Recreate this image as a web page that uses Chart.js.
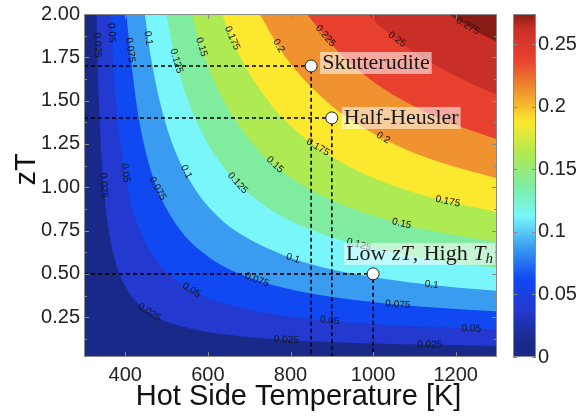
<!DOCTYPE html>
<html>
<head>
<meta charset="utf-8">
<script src="https://cdn.jsdelivr.net/npm/chart.js@4.4.1/dist/chart.umd.min.js"></script>
<style>
  html, body { margin: 0; padding: 0; background: #fff; }
</style>
</head>
<body>
<canvas id="chart" width="579" height="419"></canvas>
<script>
// efficiency levels of the filled contours
const levels = [0.025, 0.05, 0.075, 0.1, 0.125, 0.15, 0.175, 0.2, 0.225, 0.25, 0.275];
// band colours, lowest band first
const bandColors = ['#19298a', '#2339cf', '#1048f2', '#3a9cf0', '#78f6fa', '#80eca0',
                    '#aeea52', '#fce82e', '#ef922f', '#e8412f', '#ca2f27', '#8a1b14'];

// contour lines as [T (K), zT] pairs
const c025 = [[330,2.0],[336,1.5],[348,1.0],[360,0.75],[373,0.6],[386,0.5],[407,0.4],[422,0.35],[444,0.3],[476,0.25],[531,0.2],[586,0.17],[641,0.15],[725,0.13],[785,0.12],[866,0.11],[980,0.1],[1155,0.09],[1300,0.084]];
const c050 = [[364,2.0],[377,1.5],[405,1.0],[436,0.75],[469,0.6],[504,0.5],[530,0.45],[564,0.4],[612,0.35],[686,0.3],[811,0.25],[940,0.22],[1073,0.2],[1300,0.178]];
const c075 = [[402,2.0],[426,1.5],[445,1.25],[476,1.0],[534,0.75],[600,0.6],[633,0.55],[677,0.5],[736,0.45],[820,0.4],[951,0.35],[1047,0.325],[1181,0.3],[1300,0.284]];
const c100 = [[447,2.0],[462,1.75],[483,1.5],[514,1.25],[566,1.0],[616,0.85],[666,0.75],[791,0.6],[859,0.55],[953,0.5],[1090,0.45],[1207,0.42],[1300,0.402]];
const c125 = [[499,2.0],[521,1.75],[552,1.5],[600,1.25],[643,1.1],[681,1.0],[766,0.85],[853,0.75],[991,0.65],[1095,0.6],[1208,0.56],[1300,0.535]];
const c150 = [[560,2.0],[592,1.75],[638,1.5],[709,1.25],[776,1.1],[838,1.0],[924,0.9],[1051,0.8],[1161,0.74],[1300,0.685]];
const c175 = [[634,2.0],[679,1.75],[745,1.5],[781,1.4],[853,1.25],[958,1.1],[1060,1.0],[1158,0.93],[1300,0.856]];
const c200 = [[725,2.0],[788,1.75],[885,1.5],[939,1.4],[1050,1.25],[1155,1.15],[1300,1.052]];
const c225 = [[839,2.0],[929,1.75],[1006,1.6],[1073,1.5],[1158,1.4],[1300,1.277]];
const c250 = [[985,2.0],[1031,1.9],[1118,1.75],[1236,1.6],[1300,1.536]];
const c275 = [[1181,2.0],[1250,1.9],[1300,1.839]];
const contours = [c025, c050, c075, c100, c125, c150, c175, c200, c225, c250, c275];

// inline contour labels: level, T, zT
const labelLevel = [0.025, 0.05, 0.075, 0.1, 0.125, 0.15, 0.175, 0.2, 0.225, 0.25, 0.275,
                    0.025, 0.05, 0.075, 0.1, 0.125, 0.15, 0.175, 0.2, 0.175, 0.15, 0.125,
                    0.1, 0.1, 0.075, 0.075, 0.05, 0.05, 0.05, 0.025, 0.025, 0.025];
const labelT = [331, 358, 406, 452, 525, 585, 658, 767, 883, 1057, 1229,
                346, 395, 476, 540, 670, 762, 866, 1023, 1180, 1069, 967,
                806, 1142, 718, 1060, 561, 895, 1238, 456, 790, 1137];
const labelZT = [1.82, 1.89, 1.79, 1.86, 1.73, 1.81, 1.86, 1.81, 1.87, 1.85, 1.93,
                 1.01, 1.08, 0.99, 1.08, 1.02, 1.13, 1.23, 1.28, 0.91, 0.79, 0.68,
                 0.59, 0.44, 0.46, 0.33, 0.41, 0.23, 0.19, 0.27, 0.12, 0.095];

// marked materials
const sampleT = [850, 900, 1000];
const sampleZT = [1.7, 1.4, 0.5];

// axes
const tMin = 300, tMax = 1300;
const zMin = 0.02, zMax = 2.0;
const xTicks = [400, 600, 800, 1000, 1200];
const yTicks = [0.25, 0.5, 0.75, 1.0, 1.25, 1.5, 1.75, 2.0];
const yMinorTicks = [0.125, 0.375, 0.625, 0.875, 1.125, 1.375, 1.625, 1.875];
const cbMax = 0.274;
const cbTicks = [0, 0.05, 0.1, 0.15, 0.2, 0.25];

const datasets = [];
contours.forEach((pts, i) => {
    datasets.push({
        label: 'eta ' + levels[i],
        data: pts.map(p => ({x: p[0], y: p[1]})),
        fill: 'end',
        backgroundColor: bandColors[i + 1],
        borderColor: 'transparent',
        borderWidth: 0,
        pointRadius: 0,
        cubicInterpolationMode: 'monotone',
        order: 100 - i,
    });
});
sampleT.forEach((t, i) => {
    datasets.push({
        label: 'guide ' + i,
        data: [{x: tMin, y: sampleZT[i]}, {x: t, y: sampleZT[i]}, {x: t, y: zMin}],
        fill: false,
        borderColor: '#000',
        borderWidth: 1.6,
        borderDash: [4, 3],
        pointRadius: 0,
        order: 2,
    });
});
datasets.push({
    label: 'samples',
    data: sampleT.map((t, i) => ({x: t, y: sampleZT[i]})),
    showLine: false,
    pointRadius: 6,
    pointBackgroundColor: '#fff',
    pointBorderColor: '#222',
    pointBorderWidth: 1,
    order: 0,
});

function nearestOnContour(chart, level, t, z) {
    const xs = chart.scales.x, ys = chart.scales.y;
    const pts = contours[levels.indexOf(level)].map(p => [xs.getPixelForValue(p[0]), ys.getPixelForValue(p[1])]);
    const px = xs.getPixelForValue(t), py = ys.getPixelForValue(z);
    let best = null;
    for (let i = 0; i < pts.length - 1; i++) {
        const [x1, y1] = pts[i], [x2, y2] = pts[i + 1];
        const dx = x2 - x1, dy = y2 - y1;
        let u = ((px - x1) * dx + (py - y1) * dy) / (dx * dx + dy * dy);
        u = Math.max(0, Math.min(1, u));
        const qx = x1 + u * dx, qy = y1 + u * dy;
        const d = (qx - px) ** 2 + (qy - py) ** 2;
        if (!best || d < best.d) best = {d, x: qx, y: qy, a: Math.atan2(dy, dx)};
    }
    return best;
}

const contourPlot = {
    id: 'contourPlot',
    beforeDatasetsDraw(chart) {
        const {ctx, chartArea: a} = chart;
        ctx.save();
        ctx.fillStyle = bandColors[0];
        ctx.fillRect(a.left, a.top, a.right - a.left, a.bottom - a.top);
        ctx.restore();
    },
    afterDatasetDraw(chart, args) {
        if (args.index !== levels.length - 1) return;
        // contour labels on top of the filled bands
        const ctx = chart.ctx;
        ctx.save();
        ctx.font = '10px "Liberation Sans", Arial, sans-serif';
        ctx.fillStyle = '#151515';
        ctx.textAlign = 'center';
        ctx.textBaseline = 'middle';
        labelLevel.forEach((lv, i) => {
            const p = nearestOnContour(chart, lv, labelT[i], labelZT[i]);
            ctx.save();
            ctx.translate(p.x, p.y);
            ctx.rotate(p.a);
            ctx.fillText(String(lv), 0, 0);
            ctx.restore();
        });
        ctx.restore();
    },
    afterDatasetsDraw(chart) {
        const {ctx, chartArea: a, scales} = chart;
        const xs = scales.x, ys = scales.y, cb = scales.cb;
        ctx.save();
        // frame and inward ticks
        ctx.strokeStyle = '#8a8a8a';
        ctx.lineWidth = 1;
        ctx.strokeRect(a.left + 0.5, a.top + 0.5, a.right - a.left - 1, a.bottom - a.top - 1);
        ctx.beginPath();
        xTicks.forEach(v => {
            const x = Math.round(xs.getPixelForValue(v)) + 0.5;
            ctx.moveTo(x, a.bottom); ctx.lineTo(x, a.bottom - 5);
            ctx.moveTo(x, a.top); ctx.lineTo(x, a.top + 5);
        });
        yTicks.forEach(v => {
            const y = Math.round(ys.getPixelForValue(v)) + 0.5;
            ctx.moveTo(a.left, y); ctx.lineTo(a.left + 5, y);
            ctx.moveTo(a.right, y); ctx.lineTo(a.right - 5, y);
        });
        yMinorTicks.forEach(v => {
            const y = Math.round(ys.getPixelForValue(v)) + 0.5;
            ctx.moveTo(a.left, y); ctx.lineTo(a.left + 3, y);
            ctx.moveTo(a.right, y); ctx.lineTo(a.right - 3, y);
        });
        ctx.stroke();

        // colour bar
        const cbL = a.right + 16, cbR = a.right + 39;
        const y0 = cb.getPixelForValue(0), y1 = cb.getPixelForValue(cbMax);
        const g = ctx.createLinearGradient(0, y0, 0, y1);
        bandColors.forEach((c, i) => {
            const mid = Math.min(i * 0.025 + 0.0125, cbMax);
            g.addColorStop(mid / cbMax, c);
        });
        g.addColorStop(0, bandColors[0]);
        g.addColorStop(1, bandColors[bandColors.length - 1]);
        ctx.fillStyle = g;
        ctx.fillRect(cbL, y1, cbR - cbL, y0 - y1);
        ctx.strokeStyle = '#8a8a8a';
        ctx.strokeRect(cbL + 0.5, y1 + 0.5, cbR - cbL - 1, y0 - y1 - 1);
        ctx.beginPath();
        cbTicks.forEach(v => {
            const y = Math.round(cb.getPixelForValue(v)) + 0.5;
            ctx.moveTo(cbL, y); ctx.lineTo(cbL + 4, y);
            ctx.moveTo(cbR, y); ctx.lineTo(cbR - 4, y);
        });
        ctx.stroke();

        // sample annotations
        const serif = '"Liberation Serif", "Times New Roman", serif';
        const notes = [
            [{t: 'Skutterudite'}],
            [{t: 'Half-Heusler'}],
            [{t: 'Low '}, {t: 'zT', i: true}, {t: ', High '}, {t: 'T', i: true}, {t: 'h', i: true, sub: true}],
        ];
        const offsets = [[10, -3], [11, 0], [-28, -20]];
        ctx.textBaseline = 'middle';
        ctx.textAlign = 'left';
        notes.forEach((parts, k) => {
            const mx = xs.getPixelForValue(sampleT[k]), my = ys.getPixelForValue(sampleZT[k]);
            const x0 = mx + offsets[k][0], yc = my + offsets[k][1];
            let w = 0;
            parts.forEach(p => {
                ctx.font = (p.i ? 'italic ' : '') + (p.sub ? '15px ' : '22px ') + serif;
                w += ctx.measureText(p.t).width;
            });
            ctx.fillStyle = 'rgba(255,255,255,0.55)';
            ctx.fillRect(x0 - 1, yc - 11, w + 4, 22);
            ctx.fillStyle = '#1a1a1a';
            let x = x0 + 1;
            parts.forEach(p => {
                ctx.font = (p.i ? 'italic ' : '') + (p.sub ? '15px ' : '22px ') + serif;
                ctx.fillText(p.t, x, p.sub ? yc + 5 : yc);
                x += ctx.measureText(p.t).width;
            });
        });
        ctx.restore();
    },
};

const tickFont = {family: '"Liberation Sans", Arial, sans-serif', size: 20};
const titleFont = {family: '"Liberation Sans", Arial, sans-serif', size: 29};
const noPad = s => { s.paddingTop = 0; s.paddingBottom = 0; s.paddingLeft = 0; s.paddingRight = 0; };

new Chart(document.getElementById('chart'), {
    type: 'line',
    data: {datasets},
    options: {
        responsive: false,
        animation: false,
        events: [],
        layout: {padding: {top: 14, right: 0, bottom: 0, left: 0}},
        plugins: {legend: {display: false}, tooltip: {enabled: false}},
        scales: {
            x: {
                type: 'linear', min: tMin, max: tMax,
                grid: {display: false, drawTicks: false},
                border: {display: false},
                afterBuildTicks: s => { s.ticks = xTicks.map(v => ({value: v})); },
                afterFit: s => { s.height = 62; noPad(s); },
                ticks: {font: tickFont, color: '#222', padding: 6, maxRotation: 0, callback: v => String(v)},
                // leading spaces nudge the title right, as in the original
                title: {display: true, text: '  Hot Side Temperature [K]', font: titleFont, color: '#111', padding: {top: 0, bottom: 5}},
            },
            y: {
                type: 'linear', min: zMin, max: zMax,
                grid: {display: false, drawTicks: false},
                border: {display: false},
                afterBuildTicks: s => { s.ticks = yTicks.map(v => ({value: v})); },
                afterFit: s => { s.width = 84; noPad(s); },
                ticks: {font: tickFont, color: '#222', padding: 4, callback: v => v.toFixed(2)},
                title: {display: true, text: '    zT', font: titleFont, color: '#111', padding: {top: 10, bottom: 0}},
            },
            cb: {
                type: 'linear', position: 'right', min: 0, max: cbMax,
                grid: {display: false, drawTicks: false},
                border: {display: false},
                afterBuildTicks: s => { s.ticks = cbTicks.map(v => ({value: v})); },
                afterFit: s => { s.width = 82; noPad(s); },
                ticks: {font: tickFont, color: '#222', padding: 41, callback: v => String(v)},
            },
        },
    },
    plugins: [contourPlot],
});
</script>
</body>
</html>
